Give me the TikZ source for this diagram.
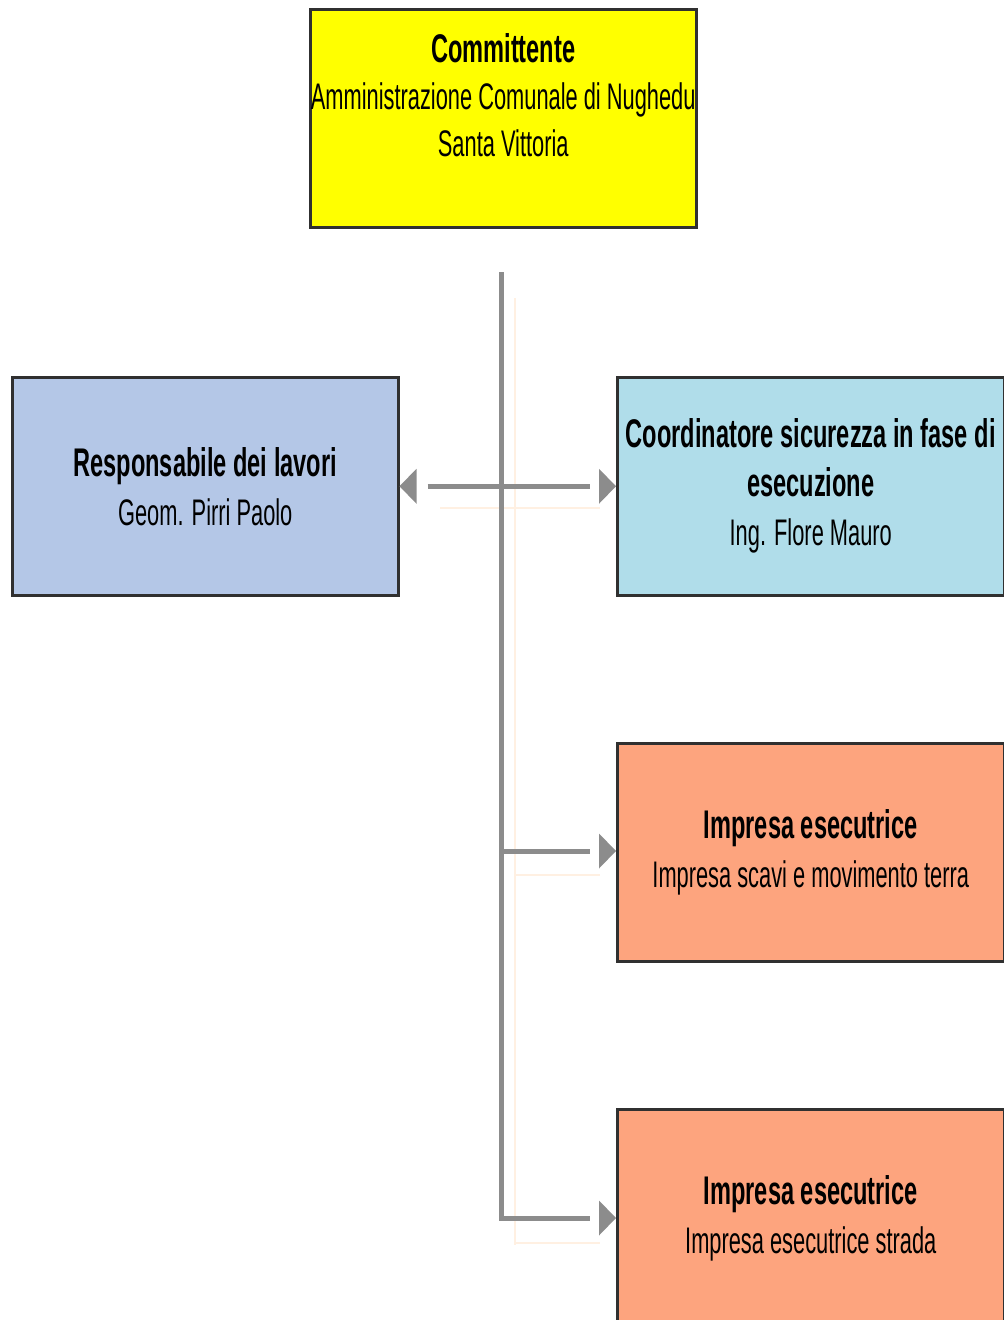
\documentclass[tikz,border=0pt]{standalone}
\usepackage{fontspec}
\newfontfamily\nar{Liberation Sans}[FakeStretch=0.59]
\definecolor{cyel}{HTML}{FFFF00}
\definecolor{cresp}{HTML}{B4C7E7}
\definecolor{ccoord}{HTML}{B0DDEA}
\definecolor{cimp}{HTML}{FDA47E}
\definecolor{cline}{HTML}{8C8C8C}
\definecolor{cshadow}{HTML}{FFF0E2}
\definecolor{cborder}{HTML}{303030}
\tikzset{
  box/.style={draw=cborder, line width=2.5pt, rectangle, anchor=north west,
    minimum width=386pt, minimum height=218pt, inner sep=0pt, align=center,
    font=\nar\fontsize{37}{49}\selectfont, text=black},
  conn/.style={draw=cline, line width=5pt},
  tipfill/.style={fill=cline},
  shadowline/.style={draw=cshadow, line width=2pt},
}
\newcommand{\ttl}[1]{{\bfseries\fontsize{40}{49}\selectfont #1}}
\newcommand{\reg}[1]{{\fontsize{37}{49}\selectfont #1}}
\begin{document}
\begin{tikzpicture}[x=1pt,y=-1pt]
\useasboundingbox (0,0) rectangle (1004,1320);
% faint shadow traces
\draw[shadowline] (515,298) -- (515,1245);
\draw[shadowline] (440,508) -- (600,508);
\draw[shadowline] (515,875) -- (600,875);
\draw[shadowline] (515,1243) -- (600,1243);
% boxes
\node[box, fill=cyel, font=\nar\fontsize{37}{47}\selectfont] (comm) at (309,8)
  {{\bfseries\fontsize{40}{47}\selectfont Committente}\\
   Amministrazione Comunale di Nughedu\\
   Santa Vittoria\\
   \mbox{}};
\node[box, fill=cresp] (resp) at (11,376)
  {\ttl{Responsabile dei lavori}\\ \reg{Geom. Pirri Paolo}};
\node[box, fill=ccoord, minimum width=387pt] (coord) at (616,376)
  {\ttl{Coordinatore sicurezza in fase di}\\ \ttl{esecuzione}\\ \reg{Ing. Flore Mauro}};
\node[box, fill=cimp, minimum width=387pt] (imp1) at (616,742)
  {\ttl{Impresa esecutrice}\\ \reg{Impresa scavi e movimento terra}};
\node[box, fill=cimp, minimum width=387pt] (imp2) at (616,1108)
  {\ttl{Impresa esecutrice}\\ \reg{Impresa esecutrice strada}};
% connector coordinates
\coordinate (top) at (501,272);
\coordinate (bot) at (501,1218);
\coordinate (j1) at (501,851);
% main trunk
\draw[conn] (top) -- (bot) -- ([xshift=-26pt]imp2.west |- bot);
\draw[conn] (j1) -- ([xshift=-26pt]imp1.west |- j1);
\draw[conn] ([xshift=28pt]resp.east) -- ([xshift=-26pt]coord.west);
% arrowheads
\fill[tipfill] (coord.west) -- ++(-17,-17.5) -- ++(0,35) -- cycle;
\fill[tipfill] (resp.east) -- ++(17,-17.5) -- ++(0,35) -- cycle;
\fill[tipfill] (imp1.west |- j1) -- ++(-17,-17.5) -- ++(0,35) -- cycle;
\fill[tipfill] (imp2.west |- bot) -- ++(-17,-17.5) -- ++(0,35) -- cycle;
\end{tikzpicture}
\end{document}
